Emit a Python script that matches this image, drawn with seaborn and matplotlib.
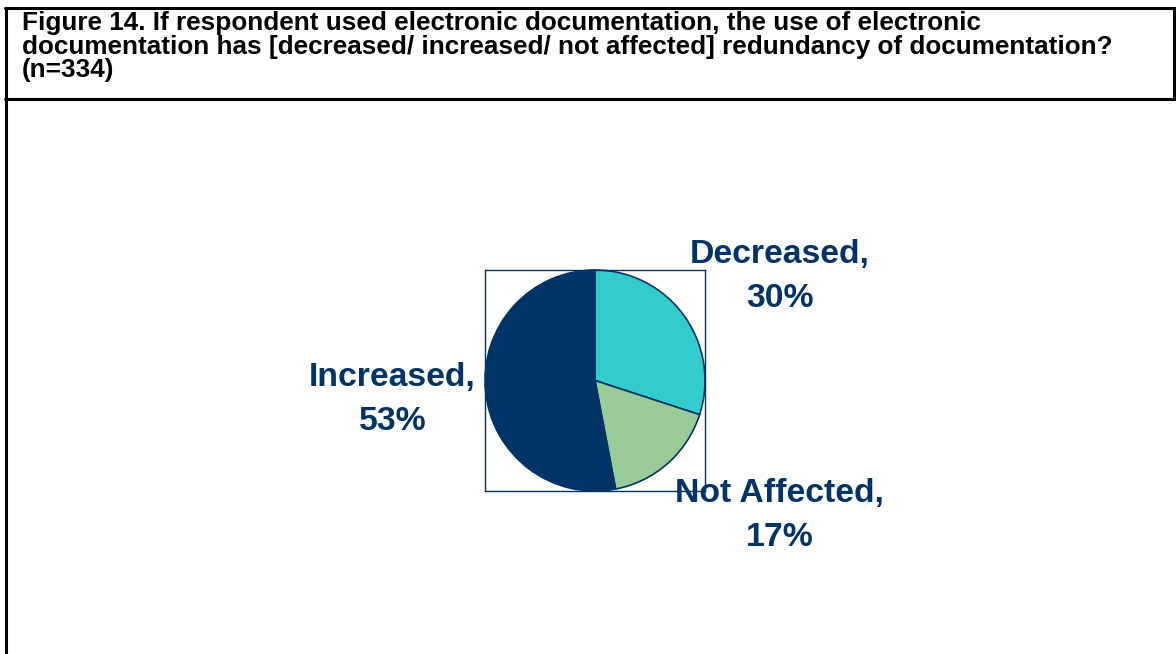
import matplotlib
matplotlib.use('Agg')
import matplotlib.pyplot as plt
import seaborn as sns
from matplotlib.lines import Line2D

# Data
categories = ['Decreased', 'Not Affected', 'Increased']
percents = [30, 17, 53]
colors = ['#33CCCC', '#99CC99', '#003366']
title = ('Figure 14. If respondent used electronic documentation, the use of electronic\n'
         'documentation has [decreased/ increased/ not affected] redundancy of documentation?\n'
         '(n=334)')

sns.set_theme(style='white')
plt.rcParams['font.family'] = ['Liberation Sans', 'DejaVu Sans']

navy = '#003366'
fig = plt.figure(figsize=(11.76, 6.54), dpi=100)
fig.patch.set_facecolor('white')

# pie axes (square frame around the pie)
ax = fig.add_axes([485 / 1176, 1 - 491 / 654, 220 / 1176, 221 / 654])
ax.pie(percents, colors=colors, startangle=90, counterclock=False, frame=True,
       wedgeprops=dict(edgecolor=navy, linewidth=1.2))
ax.set_xlim(-1, 1)
ax.set_ylim(-1, 1)
ax.set_aspect('auto')
for s in ax.spines.values():
    s.set_visible(True)
    s.set_color(navy)
    s.set_linewidth(1.0)
ax.set_xticks([])
ax.set_yticks([])

# data labels
label_pos = {'Decreased': (1.68, 0.94), 'Not Affected': (1.68, -1.22), 'Increased': (-1.84, -0.17)}
for cat, p in zip(categories, percents):
    x, y = label_pos[cat]
    ax.text(x, y, f'{cat},\n{p}%', ha='center', va='center', fontsize=24.3,
            fontweight='bold', color=navy, linespacing=1.52, clip_on=False, zorder=5)

# title
fig.text(22 / 1176, 1 - 11 / 654, title, ha='left', va='top', fontsize=18.8,
         fontweight='bold', color='black', linespacing=0.98)

# border lines
lw = 2.2
fig.add_artist(Line2D([5 / 1176, 1], [1 - 8 / 654, 1 - 8 / 654], color='black', lw=lw))
fig.add_artist(Line2D([5 / 1176, 1], [1 - 99 / 654, 1 - 99 / 654], color='black', lw=lw))
fig.add_artist(Line2D([6 / 1176, 6 / 1176], [1 - 8 / 654, 0], color='black', lw=lw))
fig.add_artist(Line2D([1174 / 1176, 1174 / 1176], [1 - 8 / 654, 1 - 99 / 654], color='black', lw=lw))

fig.savefig('out.png', dpi=100)
